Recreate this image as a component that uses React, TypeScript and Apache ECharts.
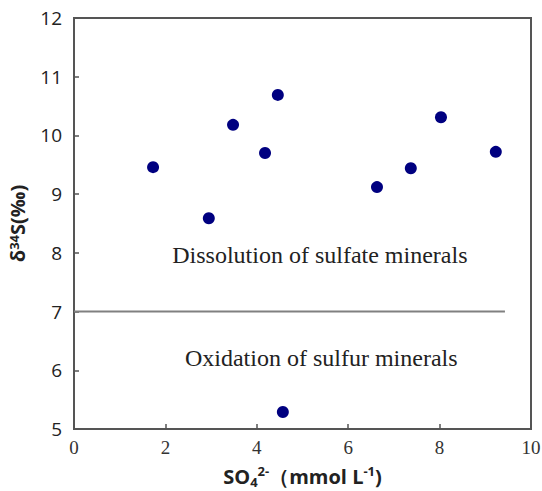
import React, { useEffect, useRef } from "react";
import * as echarts from "echarts";

const xValues = [1.73, 2.95, 3.48, 4.18, 4.46, 4.57, 6.63, 7.37, 8.03, 9.23];
const yValues = [9.46, 8.59, 10.18, 9.70, 10.69, 5.29, 9.12, 9.44, 10.31, 9.72];
const xTicks = [0, 2, 4, 6, 8, 10];
const yTicks = [5, 6, 7, 8, 9, 10, 11, 12];
const boundaryY = 7;
const boundaryX = [0, 9.43];
const annotations = [
  { text: "Dissolution of sulfate minerals", x: 5.38, y: 7.96 },
  { text: "Oxidation of sulfur minerals", x: 5.41, y: 6.21 },
];

export default function App() {
  const ref = useRef<HTMLDivElement>(null);
  useEffect(() => {
    const chart = echarts.init(ref.current!, undefined, { renderer: "svg" });
    const axisColor = "#555";
    chart.setOption({
      animation: false,
      backgroundColor: "#fff",
      grid: {
        left: 74,
        top: 18,
        right: 11,
        bottom: 62,
        containLabel: false,
        outerBoundsMode: "none",
        show: true,
        borderColor: axisColor,
        borderWidth: 2,
      },
      xAxis: {
        type: "value",
        min: xTicks[0],
        max: xTicks[xTicks.length - 1],
        interval: 2,
        axisLine: { show: true, lineStyle: { color: axisColor, width: 2 } },
        axisTick: { show: true, inside: true, length: 5, lineStyle: { color: axisColor, width: 1.5 } },
        splitLine: { show: false },
        axisLabel: {
          color: "#333",
          fontFamily: "Liberation Serif",
          fontSize: 19,
          margin: 9,
          showMaxLabel: true,
        },
        name: "{a|SO}{sub|4}{sup|2-}{a|（mmol L}{sup|-1}{a|)}",
        nameLocation: "middle",
        nameGap: 35,
        nameTextStyle: {
          rich: {
            a: { fontFamily: "Open Sans", fontWeight: "bold", fontSize: 20, color: "#222", lineHeight: 24 },
            sub: { fontFamily: "Open Sans", fontWeight: "bold", fontSize: 13, color: "#222", verticalAlign: "bottom", lineHeight: 14, padding: [6, 0, 0, 0] },
            sup: { fontFamily: "Open Sans", fontWeight: "bold", fontSize: 13, color: "#222", verticalAlign: "top", lineHeight: 14, padding: [0, 0, 6, 0] },
          },
        },
      },
      yAxis: {
        type: "value",
        min: yTicks[0],
        max: yTicks[yTicks.length - 1],
        interval: 1,
        axisLine: { show: true, lineStyle: { color: axisColor, width: 2 } },
        axisTick: { show: true, inside: true, length: 5, lineStyle: { color: axisColor, width: 1.5 } },
        splitLine: { show: false },
        axisLabel: {
          color: "#222",
          fontFamily: "Open Sans",
          fontSize: 19,
          margin: 12,
        },
        name: "{a|δ}{sup|34}{a|S(‰)}",
        nameLocation: "middle",
        nameGap: 46,
        nameRotate: 90,
        nameTextStyle: {
          rich: {
            a: { fontFamily: "Open Sans", fontWeight: "bold", fontSize: 20, color: "#222" },
            sup: { fontFamily: "Open Sans", fontWeight: "bold", fontSize: 13, color: "#222", verticalAlign: "top", padding: [0, 0, 8, 0] },
          },
        },
      },
      series: [
        {
          type: "scatter",
          data: xValues.map((x, i) => [x, yValues[i]]),
          symbol: "circle",
          symbolSize: 12,
          itemStyle: { color: "#000080", opacity: 1 },
          z: 3,
        },
        {
          type: "line",
          data: boundaryX.map((x) => [x, boundaryY]),
          symbol: "none",
          lineStyle: { color: "#808080", width: 2 },
          z: 2,
        },
      ],
    });
    const graphics = annotations.map((a) => {
      const p = chart.convertToPixel({ gridIndex: 0 }, [a.x, a.y]) as number[];
      return {
        type: "text",
        x: p[0],
        y: p[1],
        style: {
          text: a.text,
          fontFamily: "Liberation Serif",
          fontSize: 24,
          fill: "#222",
          align: "center",
          verticalAlign: "middle",
        },
      };
    });
    chart.setOption({ graphic: graphics });
    return () => chart.dispose();
  }, []);
  return <div ref={ref} style={{ width: 542, height: 491, position: "absolute", left: 0, top: 0 }} />;
}
